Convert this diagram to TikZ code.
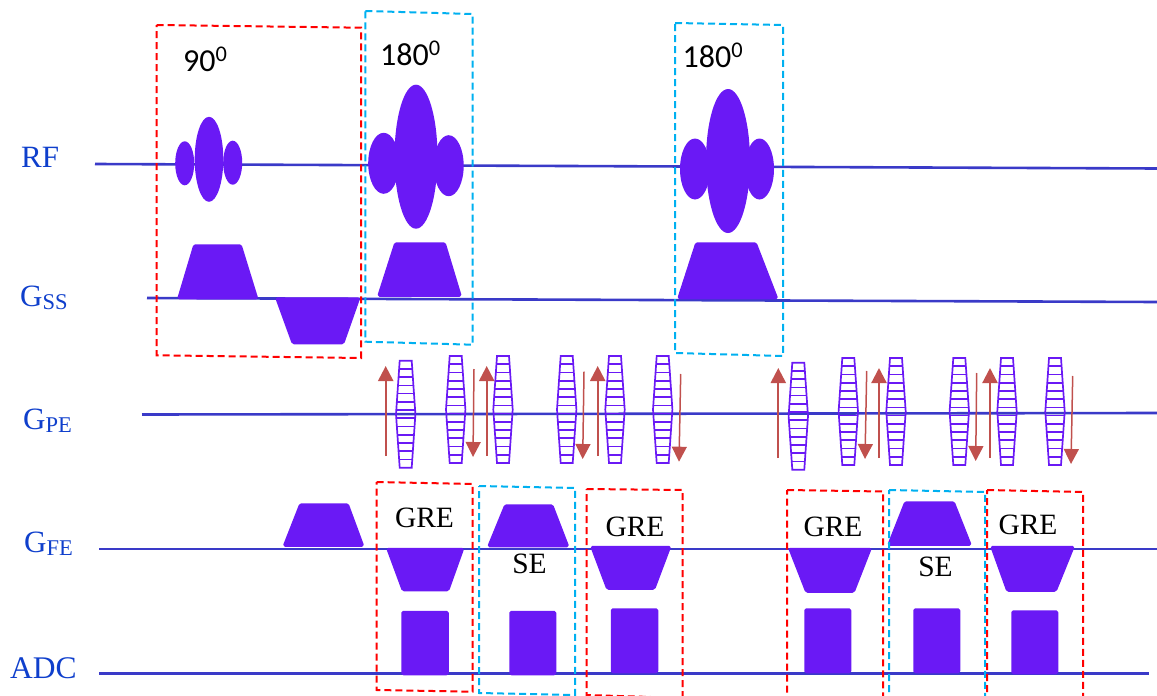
\documentclass[tikz,border=0pt]{standalone}
\usepackage{fontspec}
\setmainfont{Liberation Serif}
\newfontfamily\calfont{Carlito}
\usetikzlibrary{arrows.meta}
\definecolor{seqline}{HTML}{3A3AC8}
\definecolor{blockpurple}{HTML}{6A19F5}
\definecolor{labelblue}{HTML}{0F3FCC}
\definecolor{arrowred}{HTML}{C0504D}
\definecolor{boxblue}{HTML}{00B0F0}
\tikzset{
  axisline/.style={draw=seqline, line width=2.6pt},
  gradblock/.style={fill=blockpurple, draw=blockpurple, line width=1.5pt, line join=round, rounded corners=1.5pt},
  rfblock/.style={fill=blockpurple},
  ladder/.style={draw=blockpurple, line width=1.7pt},
  redbox/.style={draw=red, line width=2pt, dash pattern=on 7pt off 4pt},
  bluebox/.style={draw=boxblue, line width=2pt, dash pattern=on 7pt off 4pt},
  uparrow/.style={draw=arrowred, line width=2.2pt, -{Triangle[length=15pt,width=15pt]}},
  downarrow/.style={draw=arrowred, line width=1.5pt, -{Triangle[length=15pt,width=15pt]}},
  axislabel/.style={anchor=base west, inner sep=0pt, text=labelblue},
  seqlabel/.style={anchor=base, inner sep=0pt, font=\fontsize{29.5}{35}\selectfont},
  anglelabel/.style={anchor=base west, inner sep=0pt, font=\calfont\fontsize{32}{38}\selectfont}
}
\newcommand{\gradname}[1]{{\fontsize{31}{37}\selectfont G}{\fontsize{22.5}{27}\selectfont\raisebox{-3.5pt}{#1}}}

\begin{document}
\begin{tikzpicture}[x=1pt, y=-1pt]

  \path[use as bounding box] (0,0) rectangle (1157,696);
  \clip (0,0) rectangle (1157,696);

  %% ==== axes ====
  \draw[axisline] (95,164) -- (1157,168.5);
  \draw[axisline] (147,298) -- (1157,302);
  \draw[axisline] (142,414.5) -- (1157,413);
  \draw[axisline] (99,549) -- (1157,549);
  \draw[axisline] (99,673.5) -- (1149,673.5);

  %% ==== RF pulses ====
  \fill[rfblock] (184.7,163.3) ellipse (9.5 and 22);
  \fill[rfblock] (209,159.3) ellipse (14.3 and 42.5);
  \fill[rfblock] (232.7,162.7) ellipse (9.5 and 22);

  \fill[rfblock] (383.7,163.3) ellipse (15.5 and 30.5);
  \fill[rfblock] (416,156.7) ellipse (21.5 and 72);
  \fill[rfblock] (448.7,165.7) ellipse (15 and 30.5);

  \fill[rfblock] (695,169) ellipse (15 and 30.5);
  \fill[rfblock] (728,161) ellipse (22 and 72);
  \fill[rfblock] (759.5,169) ellipse (14.5 and 30.5);

  %% ==== slice select ====
  \filldraw[gradblock] (194,245) -- (241,245) -- (257.5,298.5) -- (178,298.5) -- cycle;
  \filldraw[gradblock] (276,298) -- (359.5,298) -- (343.5,343.5) -- (292.5,343.5) -- cycle;
  \filldraw[gradblock] (395,243) -- (445,243) -- (461,296) -- (378,296) -- cycle;
  \filldraw[gradblock] (696,243) -- (756,243) -- (777.5,298.5) -- (678,298.5) -- cycle;

  %% ==== phase encode ====
  \foreach \cx/\ty in {405.7/360.7, 455.7/356, 503/356, 566.7/356, 615/356, 662.7/356,
                       798.3/362.7, 848.3/358, 896/358, 959.3/358, 1007/358, 1055/358} {
    \draw[ladder] (\cx-6,\ty) -- (\cx+6,\ty) -- (\cx+9.7,\ty+53.5) -- (\cx+6,\ty+107)
                  -- (\cx-6,\ty+107) -- (\cx-9.7,\ty+53.5) -- cycle;
    \foreach \i in {1,...,12} {
      \pgfmathsetmacro{\hw}{9.7-3.7*abs(\i-6.5)/6.5}
      \draw[ladder] (\cx-\hw,\ty+\i*8.23) -- (\cx+\hw,\ty+\i*8.23);
    }
  }

  \draw[uparrow] (385.7,456) -- (385.7,366);
  \draw[downarrow] (474,369) -- (473,457);
  \draw[uparrow] (486.7,456) -- (486.7,366);
  \draw[downarrow] (584,371.7) -- (582.7,459);
  \draw[uparrow] (597.7,456) -- (597.7,366);
  \draw[downarrow] (680.7,374) -- (679,461.7);
  \draw[uparrow] (778.3,458) -- (778.3,368);
  \draw[downarrow] (866.7,371) -- (865,459);
  \draw[uparrow] (879,458) -- (879,368);
  \draw[downarrow] (976.7,373) -- (975.7,461);
  \draw[uparrow] (990,458) -- (990,368);
  \draw[downarrow] (1072.7,376) -- (1071,464);

  %% ==== frequency encode ====
  \filldraw[gradblock] (300,504) -- (348,504) -- (363.5,546) -- (283.5,546) -- cycle;
  \filldraw[gradblock] (387,548.5) -- (463.5,548.5) -- (448.5,590.5) -- (402.5,590.5) -- cycle;
  \filldraw[gradblock] (505,505) -- (552.5,505) -- (568.5,546.5) -- (488,546.5) -- cycle;
  \filldraw[gradblock] (591,546.5) -- (670.5,546.5) -- (654.5,589) -- (607,589) -- cycle;
  \filldraw[gradblock] (789,548.5) -- (871,548.5) -- (854,592) -- (806,592) -- cycle;
  \filldraw[gradblock] (905,502) -- (954,502) -- (971,545) -- (888,545) -- cycle;
  \filldraw[gradblock] (991,546.5) -- (1074,546.5) -- (1056,591) -- (1007,591) -- cycle;

  %% ==== ADC ====
  \filldraw[gradblock] (402,611.5) rectangle (448,674.5);
  \filldraw[gradblock] (510,611.5) rectangle (555.5,674.5);
  \filldraw[gradblock] (611.5,609) rectangle (657.5,672.5);
  \filldraw[gradblock] (805,609) rectangle (850.5,672.5);
  \filldraw[gradblock] (914,609) rectangle (959.5,672.5);
  \filldraw[gradblock] (1012,611) rectangle (1057.5,673.5);

  %% ==== dashed frames ====
  \draw[redbox] (156.7,25) -- (361,27.7) -- (361,358) -- (156.7,355.3) -- cycle;
  \draw[bluebox] (365.3,11) -- (472.7,14) -- (472.7,344.7) -- (365.3,341.7) -- cycle;
  \draw[bluebox] (675,23) -- (783,25) -- (783,356) -- (675,353) -- cycle;
  \draw[redbox] (376.7,482) -- (472.7,484) -- (472.7,691.7) -- (376.7,690) -- cycle;
  \draw[bluebox] (479,486) -- (575,488) -- (575,695) -- (479,693) -- cycle;
  \draw[redbox] (586.7,489) -- (682.7,490) -- (682.7,698) -- (586.7,695) -- cycle;
  \draw[redbox] (787,490) -- (883,491.5) -- (883,705) -- (787,705) -- cycle;
  \draw[bluebox] (889,490) -- (985,492) -- (985,705) -- (889,705) -- cycle;
  \draw[redbox] (987,490) -- (1083,492) -- (1083,705) -- (987,705) -- cycle;

  %% ==== labels ====
  \node[axislabel, font=\fontsize{31}{37}\selectfont] (rf) at (21,167) {RF};
  \node[axislabel] (gss) at (20,306) {\gradname{SS}};
  \node[axislabel] (gpe) at (23,429) {\gradname{PE}};
  \node[axislabel] (gfe) at (24,552) {\gradname{FE}};
  \node[axislabel, font=\fontsize{31.5}{38}\selectfont] (adc) at (10,678) {ADC};

  \node[anglelabel] (ninety) at (183,71) {90\textsuperscript{0}};
  \node[anglelabel] (oneeightyA) at (380,65) {180\textsuperscript{0}};
  \node[anglelabel] (oneeightyB) at (682.5,67) {180\textsuperscript{0}};

  \node[seqlabel] (greA) at (424.5,527) {GRE};
  \node[seqlabel] (seA) at (529.5,573) {SE};
  \node[seqlabel] (greB) at (635,536) {GRE};
  \node[seqlabel] (greC) at (833,536) {GRE};
  \node[seqlabel] (seB) at (935.5,576) {SE};
  \node[seqlabel] (greD) at (1028,534) {GRE};
\end{tikzpicture}
\end{document}
